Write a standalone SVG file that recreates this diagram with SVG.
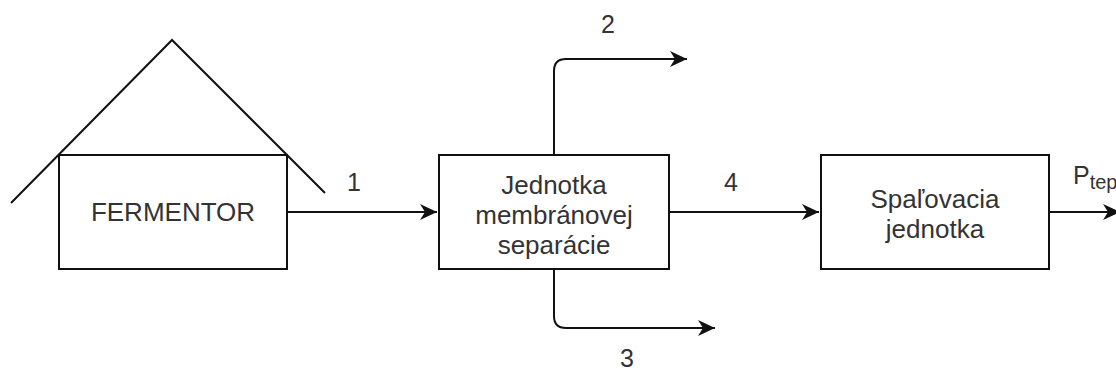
<svg xmlns="http://www.w3.org/2000/svg" width="1116" height="374" viewBox="0 0 1116 374">
<defs>
<style>
.box{fill:#fff;stroke:#111;stroke-width:2}
.ln{fill:none;stroke:#111;stroke-width:2}
.t{font-family:"Liberation Sans",Arial,sans-serif;font-size:26px;fill:#333;text-anchor:middle}
.lb{font-family:"Liberation Sans",Arial,sans-serif;font-size:25px;fill:#333;text-anchor:middle}
</style>
<marker id="arr" markerUnits="userSpaceOnUse" markerWidth="20" markerHeight="20" viewBox="-18 -10 20 20" refX="0" refY="0" orient="auto">
<path d="M0,0 L-17,-8 L-12,0 L-17,8 Z" fill="#111"/>
</marker>
</defs>
<rect width="1116" height="374" fill="#fff"/>
<g id="fermentor">
<polyline class="ln" points="11,203 172,40 325,193"/>
<rect class="box" x="59" y="155" width="228" height="114"/>
<text class="t" x="173" y="221">FERMENTOR</text>
</g>
<g id="membrane">
<rect class="box" x="439" y="155" width="230" height="114"/>
<text class="t" x="554" y="194">Jednotka</text>
<text class="t" x="554" y="224">membránovej</text>
<text class="t" x="554" y="254">separácie</text>
</g>
<g id="combustion">
<rect class="box" x="821" y="155" width="228" height="114"/>
<text class="t" x="935" y="208">Spaľovacia</text>
<text class="t" x="935" y="238">jednotka</text>
</g>
<g id="connectors">
<path class="ln" d="M287,212 H437" marker-end="url(#arr)"/>
<path class="ln" d="M669,212 H819" marker-end="url(#arr)"/>
<path class="ln" d="M554,155 V71 Q554,59 566,59 H687" marker-end="url(#arr)"/>
<path class="ln" d="M554,269 V316 Q554,328 566,328 H715" marker-end="url(#arr)"/>
<path class="ln" d="M1049,212 H1120" marker-end="url(#arr)"/>
</g>
<g id="labels">
<text class="lb" x="354" y="191">1</text>
<text class="lb" x="608" y="33">2</text>
<text class="lb" x="627" y="367">3</text>
<text class="lb" x="731" y="191">4</text>
<text class="lb" x="1073" y="184" style="text-anchor:start">P<tspan font-size="20" dy="5">tep</tspan></text>
</g>
</svg>
